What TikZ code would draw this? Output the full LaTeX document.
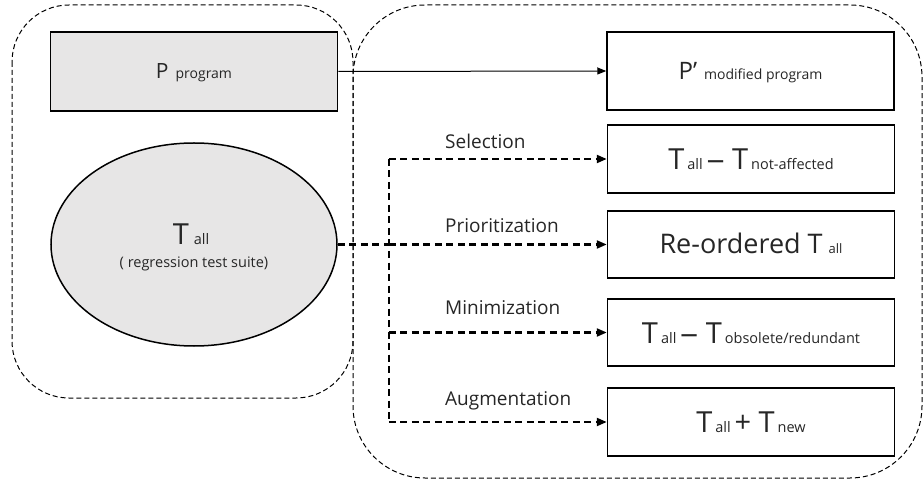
\documentclass[tikz,border=0pt]{standalone}
\usepackage{fontspec}
\usepackage{graphicx}
\setmainfont{Open Sans}
\usetikzlibrary{arrows.meta,shapes.geometric}
\definecolor{boxgray}{HTML}{E7E6E6}
\definecolor{txt}{HTML}{262626}
\newcommand\fsz[1]{\fontsize{#1bp}{#1bp}\selectfont}
\newcommand\longdash{\scalebox{1.25}[1]{–}}
\tikzset{
  container/.style={draw=black, line width=1bp, dash pattern=on 5bp off 3bp},
  box/.style={draw=black, line width=1.5bp, minimum width=287bp, minimum height=68bp,
              inner sep=0pt, text=txt, text depth=0bp},
  conn/.style={line width=2.2bp, dash pattern=on 7bp off 4.5bp},
  trunk/.style={line width=3.2bp, dash pattern=on 7bp off 4.5bp},
  tipbig/.style={-{Triangle[length=10bp,width=8bp]}},
  tipsmall/.style={-{Triangle[length=9bp,width=7bp]}},
  lbl/.style={font=\fsz{19}, text=txt, inner sep=0pt, anchor=base west},
  thinarrow/.style={draw=black, line width=1bp}
}
\begin{document}
\begin{tikzpicture}[x=1bp,y=-1bp]
\useasboundingbox (0,0) rectangle (924,483);
% containers
\draw[container, rounded corners=57bp] (12,5) rectangle (353,398);
\draw[container, rounded corners=72bp] (353,5) rectangle (922,478);
% left side
\node[box, fill=boxgray, minimum height=79bp, text height=15bp] (P) at (194,71.5)
  {\fsz{21}P\hspace{7bp}\fsz{14}program};
\node[ellipse, draw=black, line width=1.5bp, fill=boxgray, minimum width=286bp,
      minimum height=203bp, inner sep=0pt] (ell) at (194,244.5) {};
\node[anchor=base, inner sep=0pt, text=txt] (tall) at (191,245)
  {\fsz{29}T\hspace{5bp}\fsz{14.5}all};
\node[anchor=base, inner sep=0pt, text=txt] (rts) at (194,268)
  {\fsz{14.5}( regression test suite)};
% right side
\node[box, minimum height=78bp, text height=17bp] (Pm) at (750.5,71)
  {\fsz{24}P’\hspace{7bp}\fsz{14}modified program};
\node[box, text height=21bp] (sel) at (751,159)
  {\fsz{29}T\hspace{3bp}\fsz{14.5}all \fsz{29}\longdash{} T\hspace{3bp}\fsz{14.5}not-affected};
\node[box, minimum height=67bp, text height=19bp] (pri) at (751,244.5)
  {\fsz{27}Re-ordered T\hspace{6bp}\fsz{13}all};
\node[box, minimum height=67bp, text height=21bp] (min) at (751,332.5)
  {\fsz{29}T\hspace{3bp}\fsz{14.5}all \fsz{29}\longdash{} T\hspace{3bp}\fsz{14.5}obsolete/redundant};
\node[box, text height=21bp] (aug) at (751,422)
  {\fsz{29}T\hspace{3bp}\fsz{14.5}all \fsz{29}+ T\hspace{3bp}\fsz{14.5}new};
% connectors
\draw[thinarrow, tipsmall] (P.east) -- (Pm.west);
\path (ell.east) -- ++(51,0) coordinate (j);
\draw[trunk] (ell.east) -- (j);
\draw[conn] (j |- sel.west) -- (j |- aug.west);
\draw[conn, tipbig] (j |- sel.west) -- (sel.west);
\draw[conn, tipbig] (j) -- (pri.west);
\draw[conn, tipbig] (j |- min.west) -- (min.west);
\draw[conn, tipbig] (j |- aug.west) -- (aug.west);
% labels
\node[lbl] (lsel) at (445,149) {Selection};
\node[lbl] (lpri) at (445,233) {Prioritization};
\node[lbl] (lmin) at (445,315) {Minimization};
\node[lbl] (laug) at (445,405) {Augmentation};
\end{tikzpicture}
\end{document}
